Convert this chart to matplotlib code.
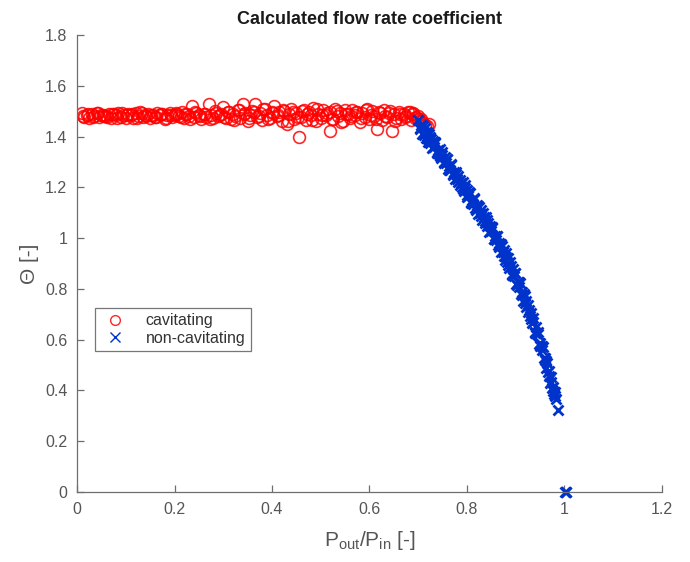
import matplotlib
matplotlib.use("Agg")
import matplotlib.pyplot as plt

plt.rcParams['font.family'] = ['Liberation Sans', 'DejaVu Sans']

# cavitating points (pressure ratio, flow rate coefficient)
cav_x = [
    0.010, 0.015, 0.020, 0.025, 0.030, 0.035, 0.040, 0.045, 0.050, 0.055,
    0.060, 0.065, 0.070, 0.075, 0.080, 0.085, 0.090, 0.095, 0.100, 0.105,
    0.110, 0.115, 0.120, 0.125, 0.130, 0.135, 0.140, 0.145, 0.150, 0.155,
    0.160, 0.165, 0.170, 0.175, 0.180, 0.185, 0.190, 0.195, 0.200, 0.205,
    0.210, 0.215, 0.220, 0.225, 0.230, 0.235, 0.240, 0.245, 0.250, 0.255,
    0.260, 0.265, 0.270, 0.275, 0.280, 0.285, 0.290, 0.295, 0.300, 0.305,
    0.310, 0.315, 0.320, 0.325, 0.330, 0.335, 0.340, 0.345, 0.350, 0.355,
    0.360, 0.365, 0.370, 0.375, 0.380, 0.385, 0.390, 0.395, 0.400, 0.405,
    0.410, 0.415, 0.420, 0.425, 0.430, 0.435, 0.440, 0.445, 0.450, 0.455,
    0.460, 0.465, 0.470, 0.475, 0.480, 0.485, 0.490, 0.495, 0.500, 0.505,
    0.510, 0.518, 0.520, 0.525, 0.530, 0.535, 0.540, 0.545, 0.550, 0.555,
    0.560, 0.565, 0.570, 0.575, 0.580, 0.585, 0.590, 0.595, 0.600, 0.605,
    0.610, 0.615, 0.620, 0.625, 0.630, 0.635, 0.640, 0.646, 0.650, 0.655,
    0.660, 0.665, 0.670, 0.675, 0.680, 0.685, 0.690, 0.695, 0.700, 0.705,
    0.710, 0.714, 0.718, 0.722, 0.700, 0.690, 0.706,
    0.0125, 0.0225, 0.0325, 0.0425, 0.0525, 0.0625, 0.0725, 0.0825, 0.0925, 0.1025,
    0.1125, 0.1225, 0.1325, 0.1425, 0.1525, 0.1625, 0.1725, 0.1825, 0.1925, 0.2025,
    0.2125, 0.2225, 0.2325, 0.2425, 0.2525, 0.2625, 0.2725, 0.2825, 0.2925, 0.3025,
    0.3125, 0.3225, 0.3325, 0.3425, 0.3525, 0.3625, 0.3725, 0.3825, 0.3925, 0.4025,
    0.4125, 0.4225, 0.4325, 0.4425, 0.4525, 0.4625, 0.4725, 0.4825, 0.4925, 0.5025,
    0.5125, 0.5225, 0.5325, 0.5425, 0.5525, 0.5625, 0.5725, 0.5825, 0.5925, 0.6025,
    0.6125, 0.6225, 0.6325, 0.6425, 0.6525, 0.6625, 0.6725, 0.6825, 0.6925,
]
cav_y = [
    1.492, 1.478, 1.486, 1.474, 1.489, 1.482, 1.494, 1.476, 1.484, 1.480,
    1.480, 1.490, 1.475, 1.487, 1.483, 1.493, 1.477, 1.486, 1.472, 1.488,
    1.486, 1.474, 1.491, 1.481, 1.495, 1.478, 1.484, 1.489, 1.473, 1.485,
    1.477, 1.492, 1.483, 1.488, 1.471, 1.486, 1.494, 1.479, 1.485, 1.490,
    1.482, 1.496, 1.474, 1.489, 1.480, 1.520, 1.476, 1.491, 1.485, 1.470,
    1.490, 1.479, 1.527, 1.486, 1.472, 1.494, 1.481, 1.488, 1.518, 1.475,
    1.497, 1.468, 1.489, 1.482, 1.505, 1.474, 1.530, 1.491, 1.462, 1.486,
    1.500, 1.528, 1.477, 1.493, 1.466, 1.508, 1.484, 1.472, 1.498, 1.520,
    1.480, 1.495, 1.463, 1.502, 1.450, 1.488, 1.507, 1.470, 1.492, 1.400,
    1.478, 1.504, 1.466, 1.496, 1.484, 1.512, 1.460, 1.490, 1.474, 1.506,
    1.486, 1.420, 1.498, 1.468, 1.510, 1.480, 1.494, 1.463, 1.503, 1.488,
    1.472, 1.506, 1.484, 1.497, 1.458, 1.492, 1.478, 1.509, 1.470, 1.500,
    1.482, 1.430, 1.495, 1.467, 1.504, 1.478, 1.492, 1.420, 1.488, 1.474,
    1.498, 1.470, 1.490, 1.481, 1.496, 1.466, 1.487, 1.476, 1.470, 1.460,
    1.452, 1.446, 1.440, 1.448, 1.480, 1.492, 1.470,
    1.481, 1.489, 1.476, 1.492, 1.484, 1.479, 1.488, 1.473, 1.491, 1.483,
    1.487, 1.475, 1.494, 1.480, 1.486, 1.478, 1.490, 1.474, 1.485, 1.493,
    1.477, 1.488, 1.470, 1.496, 1.482, 1.490, 1.468, 1.500, 1.484, 1.476,
    1.495, 1.465, 1.503, 1.487, 1.472, 1.498, 1.480, 1.510, 1.469, 1.492,
    1.483, 1.505, 1.462, 1.496, 1.478, 1.500, 1.488, 1.466, 1.507, 1.484,
    1.493, 1.471, 1.502, 1.458, 1.490, 1.480, 1.497, 1.475, 1.504, 1.486,
    1.468, 1.494, 1.482, 1.500, 1.463, 1.489, 1.477, 1.495, 1.472,
]

# non-cavitating points
noncav_x = [
    0.700, 0.703, 0.705, 0.707, 0.709, 0.711, 0.713, 0.716, 0.718, 0.720,
    0.722, 0.724, 0.726, 0.728, 0.731, 0.733, 0.735, 0.738, 0.740, 0.742,
    0.745, 0.747, 0.749, 0.752, 0.754, 0.757, 0.759, 0.761, 0.764, 0.766,
    0.768, 0.771, 0.773, 0.775, 0.778, 0.780, 0.782, 0.785, 0.787, 0.789,
    0.792, 0.794, 0.796, 0.799, 0.801, 0.803, 0.806, 0.808, 0.810, 0.813,
    0.815, 0.817, 0.820, 0.822, 0.824, 0.827, 0.829, 0.831, 0.834, 0.836,
    0.838, 0.841, 0.843, 0.845, 0.848, 0.850, 0.852, 0.855, 0.857, 0.859,
    0.862, 0.864, 0.866, 0.869, 0.871, 0.873, 0.876, 0.878, 0.880, 0.883,
    0.885, 0.887, 0.890, 0.892, 0.894, 0.897, 0.899, 0.901, 0.904, 0.906,
    0.908, 0.911, 0.913, 0.915, 0.918, 0.920, 0.922, 0.925, 0.927, 0.929,
    0.932, 0.934, 0.936, 0.939, 0.941, 0.943, 0.946, 0.948, 0.950, 0.953,
    0.955, 0.957, 0.960, 0.962, 0.964, 0.967, 0.969, 0.971, 0.973, 0.975,
    0.977, 0.979, 0.981, 0.983, 0.987, 1.001, 1.003, 1.004,
    0.704, 0.708, 0.712, 0.717, 0.721, 0.725, 0.730, 0.734, 0.739, 0.744,
    0.748, 0.753, 0.758, 0.763, 0.767, 0.772, 0.777, 0.781, 0.786, 0.791,
    0.795, 0.800, 0.805, 0.809, 0.814, 0.819, 0.823, 0.828, 0.833, 0.837,
    0.842, 0.847, 0.851, 0.856, 0.861, 0.865, 0.870, 0.875, 0.879, 0.884,
    0.889, 0.893, 0.898, 0.903, 0.907, 0.912, 0.917, 0.921, 0.926, 0.931,
    0.935, 0.940, 0.945, 0.949, 0.954, 0.959, 0.963, 0.968, 0.972, 0.976,
    0.980,
]
noncav_y = [
    1.465, 1.433, 1.446, 1.412, 1.442, 1.416, 1.433, 1.394, 1.404, 1.392,
    1.410, 1.374, 1.389, 1.354, 1.382, 1.358, 1.373, 1.334, 1.348, 1.330,
    1.351, 1.314, 1.328, 1.294, 1.320, 1.296, 1.311, 1.272, 1.284, 1.268,
    1.288, 1.251, 1.262, 1.231, 1.254, 1.234, 1.246, 1.208, 1.219, 1.202,
    1.222, 1.184, 1.198, 1.163, 1.190, 1.167, 1.179, 1.142, 1.152, 1.136,
    1.155, 1.118, 1.130, 1.096, 1.122, 1.098, 1.111, 1.072, 1.083, 1.066,
    1.085, 1.048, 1.058, 1.026, 1.049, 1.027, 1.039, 0.998, 1.010, 0.992,
    1.009, 0.971, 0.982, 0.946, 0.970, 0.946, 0.955, 0.915, 0.926, 0.905,
    0.923, 0.884, 0.890, 0.856, 0.878, 0.850, 0.861, 0.819, 0.826, 0.806,
    0.822, 0.780, 0.788, 0.752, 0.770, 0.744, 0.752, 0.707, 0.715, 0.694,
    0.705, 0.664, 0.670, 0.629, 0.649, 0.621, 0.624, 0.581, 0.586, 0.559,
    0.572, 0.529, 0.529, 0.489, 0.507, 0.472, 0.476, 0.431, 0.435, 0.410,
    0.413, 0.384, 0.378, 0.368, 0.323, 0.000, 0.000, 0.001,
    1.428, 1.445, 1.408, 1.418, 1.380, 1.398, 1.360, 1.378, 1.338, 1.322,
    1.340, 1.300, 1.312, 1.270, 1.290, 1.248, 1.262, 1.222, 1.230, 1.195,
    1.210, 1.170, 1.180, 1.140, 1.158, 1.112, 1.126, 1.086, 1.098, 1.058,
    1.072, 1.028, 1.042, 0.995, 1.010, 0.965, 0.978, 0.930, 0.942, 0.896,
    0.905, 0.858, 0.862, 0.816, 0.826, 0.774, 0.780, 0.730, 0.735, 0.680,
    0.684, 0.628, 0.630, 0.575, 0.575, 0.518, 0.514, 0.455, 0.452, 0.398,
    0.393,
]

x_ticks = [0, 0.2, 0.4, 0.6, 0.8, 1, 1.2]
x_tick_labels = ['0', '0.2', '0.4', '0.6', '0.8', '1', '1.2']
y_ticks = [0, 0.2, 0.4, 0.6, 0.8, 1, 1.2, 1.4, 1.6, 1.8]
y_tick_labels = ['0', '0.2', '0.4', '0.6', '0.8', '1', '1.2', '1.4', '1.6', '1.8']

fig = plt.figure(figsize=(6.9, 5.62), dpi=100)
ax = fig.add_axes([0.1116, 0.1246, 0.8478, 0.8131])

ax.plot(cav_x, cav_y, linestyle='none', marker='o', markersize=8.5,
        markerfacecolor='none', markeredgecolor='#ff0000', markeredgewidth=1.2,
        alpha=0.85, label='cavitating')
ax.plot(noncav_x, noncav_y, linestyle='none', marker='x', markersize=7.8,
        markeredgecolor='#0033cc', markeredgewidth=2.0, clip_on=False,
        label='non-cavitating')

ax.set_xlim(0, 1.2)
ax.set_ylim(0, 1.8)
ax.set_xticks(x_ticks)
ax.set_xticklabels(x_tick_labels)
ax.set_yticks(y_ticks)
ax.set_yticklabels(y_tick_labels)

for side in ['top', 'right']:
    ax.spines[side].set_visible(False)
for side in ['left', 'bottom']:
    ax.spines[side].set_color('#6e6e6e')
    ax.spines[side].set_linewidth(0.9)
ax.tick_params(direction='in', length=5, width=0.9, color='#6e6e6e',
               labelcolor='#555555', labelsize=11.5, pad=7)

ax.set_title('Calculated flow rate coefficient', fontsize=13,
             fontweight='bold', color='#1a1a1a', pad=8)
ax.set_xlabel('P$_{\\mathregular{out}}$/P$_{\\mathregular{in}}$ [-]',
              fontsize=15, color='#555555', labelpad=9)
ax.set_ylabel('\u0398 [-]', fontsize=15, color='#555555', labelpad=4)

leg = ax.legend(loc='upper left', bbox_to_anchor=(0.031, 0.403), fontsize=11.5,
                frameon=True, fancybox=False, borderpad=0.35, borderaxespad=0,
                handletextpad=1.0, labelspacing=0.15, handlelength=1.8)
leg.get_frame().set_edgecolor('#555555')
leg.get_frame().set_linewidth(0.9)
for line in leg.get_lines():
    line.set_markersize(7)
    line.set_markeredgewidth(1.0)
for t in leg.get_texts():
    t.set_color('#333333')

fig.savefig('out.png', dpi=100, facecolor='white')
